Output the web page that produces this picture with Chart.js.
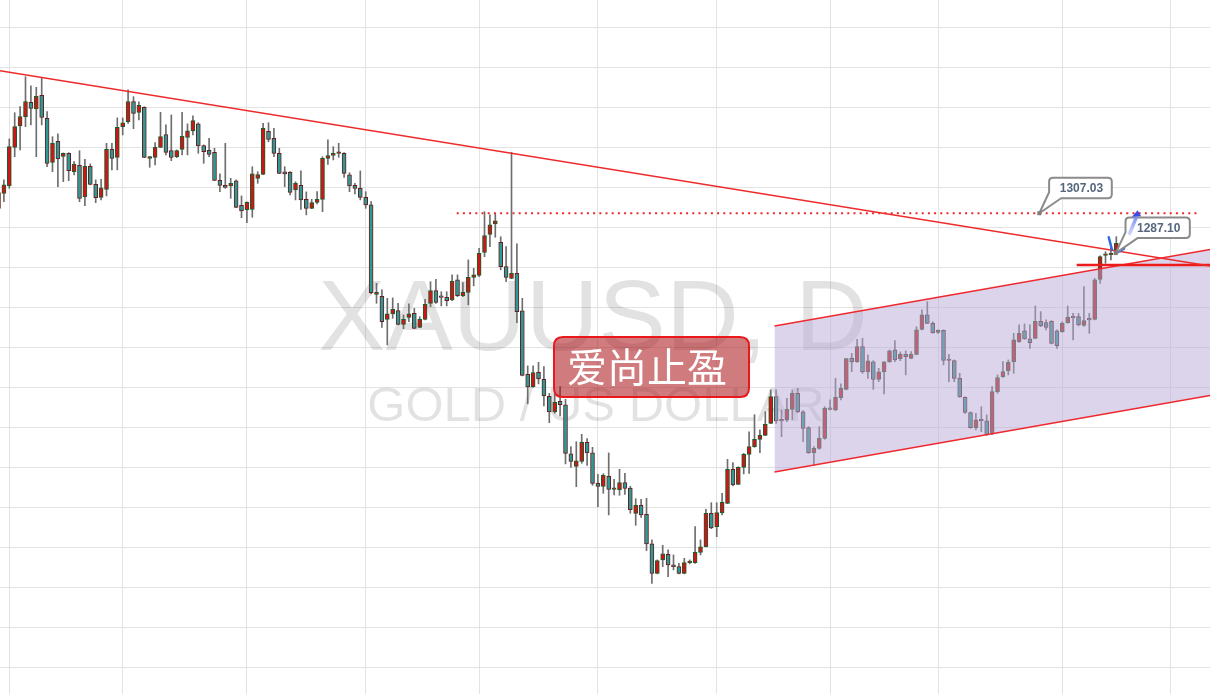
<!DOCTYPE html>
<html>
<head>
<meta charset="utf-8">
<title>XAUUSD, D</title>
<script src="https://cdn.jsdelivr.net/npm/chart.js@4.4.1/dist/chart.umd.min.js"></script>
<style>
  html, body { margin: 0; padding: 0; background: #ffffff; overflow: hidden; }
  #wrap { width: 1210px; height: 694px; }
</style>
</head>
<body>
<div id="wrap"><canvas id="c" width="1210" height="694"></canvas></div>
<script>
// Daily XAUUSD bars, numbered by trading day (0 = first session of July 2016)
const firstBar = -2;
const opens = [
  1317.3,1317.0,1320.8,1340.0,1350.7,1355.3,1362.5,1359.2,1366.0,1354.5,
  1332.5,1343.0,1335.5,1337.0,1327.8,1331.0,1315.3,1330.5,1321.5,1315.0,
  1319.0,1339.0,1335.0,1350.3,1352.8,1362.8,1357.5,1360.0,1334.5,1335.0,
  1340.0,1346.3,1338.3,1335.3,1339.0,1345.0,1348.2,1351.7,1340.8,1338.5,
  1337.5,1323.5,1321.0,1320.7,1323.2,1311.0,1308.8,1309.0,1324.5,1326.5,
  1348.0,1344.5,1337.0,1327.7,1327.5,1318.7,1321.0,1314.0,1309.5,1312.5,
  1314.0,1334.5,1336.0,1337.0,1337.0,1326.2,1321.0,1319.5,1315.0,1311.2,
  1266.5,1265.5,1254.0,1256.7,1258.3,1251.5,1255.0,1257.0,1250.0,1254.0,
  1262.0,1268.3,1265.3,1265.0,1263.7,1273.7,1265.8,1267.5,1275.0,1276.0,
  1287.5,1296.5,1301.7,1292.5,1280.3,1274.5,1277.0,1258.2,1226.5,1220.3,
  1227.5,1224.0,1215.5,1207.7,1213.0,1211.2,1186.7,1180.5,1183.0,1192.5,
  1187.2,1172.0,1170.5,1175.5,1169.0,1168.8,1172.4,1169.6,1157.0,1161.0,
  1156.5,1141.7,1127.0,1133.7,1136.5,1131.2,1130.3,1127.0,1132.3,1132.3,
  1137.5,1140.3,1157.0,1150.3,1157.3,1162.0,1179.0,1171.5,1180.0,1186.5,
  1190.3,1194.0,1196.0,1202.0,1215.3,1203.7,1203.7,1209.0,1217.0,1207.7,
  1199.8,1187.3,1189.5,1194.5,1209.7,1208.7,1214.8,1219.0,1234.5,1232.7,
  1240.3,1227.7,1232.7,1224.0,1227.7,1232.7,1238.7,1234.3,1236.5,1234.5,
  1236.5,1249.0,1256.2,1252.0,1247.5,1248.5,1233.7,1233.4,1224.5,1215.0,
  1207.3,1199.8,1203.7,1203.2,1197.0,1217.8,1225.3,1228.3,1232.8,1242.8,
  1248.2,1244.2,1244.5,1253.0,1252.3,1253.0,1248.2,1247.8,1252.3,1255.5,
  1255.3,1251.0,1254.2,1254.0,1274.0,1286.0,1286.3,1288.7
];
const highs = [
  1320.0,1323.7,1344.2,1357.3,1360.3,1375.3,1370.7,1370.0,1375.0,1357.8,
  1345.3,1346.7,1337.2,1337.3,1332.8,1338.3,1334.0,1331.7,1323.7,1324.0,
  1342.0,1342.0,1354.7,1354.7,1368.7,1365.3,1362.7,1360.3,1335.5,1342.3,
  1357.5,1351.2,1356.2,1338.7,1357.5,1351.7,1355.7,1352.3,1341.2,1344.5,
  1339.5,1326.7,1342.0,1324.5,1323.7,1315.7,1312.7,1330.3,1327.8,1352.0,
  1352.3,1349.5,1339.5,1330.3,1327.8,1322.8,1328.2,1317.7,1314.0,1317.8,
  1335.3,1343.7,1340.3,1342.0,1337.3,1327.3,1322.0,1328.2,1317.8,1312.8,
  1272.0,1268.7,1264.5,1264.7,1262.0,1256.2,1261.7,1259.5,1255.3,1264.0,
  1272.8,1274.0,1267.8,1267.8,1276.2,1276.2,1272.3,1283.7,1279.5,1289.5,
  1307.8,1306.2,1306.7,1295.3,1290.3,1337.5,1291.7,1264.5,1230.7,1230.7,
  1232.5,1230.3,1217.0,1217.0,1220.3,1214.0,1190.3,1192.8,1196.5,1194.3,
  1190.0,1176.5,1176.8,1187.2,1174.0,1179.0,1177.0,1170.5,1164.3,1164.0,
  1164.5,1143.7,1133.7,1141.0,1138.7,1136.2,1132.0,1134.5,1133.7,1150.3,
  1143.7,1159.0,1162.3,1162.3,1167.0,1184.0,1182.3,1180.3,1187.0,1197.7,
  1206.3,1198.7,1207.8,1218.7,1218.7,1208.7,1214.5,1218.7,1219.5,1208.3,
  1200.3,1190.3,1200.3,1210.3,1213.7,1224.5,1221.7,1234.5,1237.0,1244.0,
  1244.5,1236.2,1233.3,1229.5,1232.8,1238.7,1243.3,1237.7,1238.2,1237.8,
  1250.3,1258.7,1262.8,1252.8,1248.7,1248.7,1236.5,1233.7,1227.0,1215.2,
  1207.7,1207.0,1210.3,1206.2,1220.3,1226.2,1232.8,1233.7,1247.0,1251.2,
  1251.7,1251.2,1260.7,1257.8,1253.7,1253.3,1248.7,1252.8,1260.7,1257.0,
  1257.0,1270.3,1257.0,1274.5,1285.7,1287.8,1289.5,1295.3
];
const lows = [
  1306.0,1312.8,1319.5,1335.3,1338.7,1350.3,1351.2,1335.3,1351.2,1330.3,
  1327.8,1320.3,1322.8,1323.3,1326.2,1312.8,1310.8,1321.2,1312.3,1313.7,
  1315.7,1328.7,1328.7,1346.2,1352.0,1349.3,1353.7,1334.8,1330.0,1331.2,
  1339.8,1336.2,1333.3,1334.8,1336.2,1336.2,1346.2,1337.0,1332.0,1335.3,
  1323.3,1317.8,1319.5,1314.5,1309.8,1304.8,1302.3,1305.0,1322.0,1326.3,
  1342.8,1335.3,1326.8,1320.3,1316.2,1313.7,1309.0,1306.2,1309.3,1311.7,
  1307.8,1331.5,1333.7,1335.0,1325.0,1317.8,1316.7,1313.7,1309.5,1266.7,
  1262.0,1250.0,1241.2,1254.5,1251.2,1249.3,1252.8,1249.3,1249.8,1253.7,
  1260.3,1262.0,1260.7,1260.7,1263.3,1265.3,1265.3,1261.2,1270.7,1275.3,
  1285.3,1290.3,1295.0,1278.7,1272.8,1274.3,1252.3,1225.7,1211.7,1220.0,
  1221.7,1210.7,1202.3,1207.0,1205.7,1181.7,1180.0,1170.3,1182.0,1181.0,
  1171.0,1160.3,1167.0,1156.2,1166.2,1166.0,1166.5,1157.0,1151.0,1155.0,
  1138.3,1122.0,1126.7,1130.3,1125.3,1128.7,1126.7,1126.7,1131.7,1132.0,
  1136.2,1140.2,1149.3,1145.3,1156.2,1161.8,1170.7,1171.3,1176.7,1177.0,
  1190.0,1187.3,1195.8,1201.8,1202.0,1195.3,1202.8,1203.7,1207.3,1192.8,
  1187.0,1181.2,1189.0,1194.0,1208.7,1208.3,1213.7,1218.7,1227.8,1232.5,
  1227.0,1224.5,1219.0,1222.8,1216.7,1232.5,1232.8,1233.3,1226.2,1234.3,
  1236.2,1248.7,1251.8,1247.0,1247.0,1231.2,1222.8,1222.8,1215.0,1207.0,
  1199.5,1198.7,1197.8,1196.0,1196.5,1217.0,1225.0,1226.2,1227.0,1242.5,
  1244.0,1239.5,1244.3,1250.3,1248.7,1241.7,1239.5,1247.5,1252.0,1243.7,
  1250.7,1250.5,1247.0,1253.7,1272.0,1282.0,1283.7,1287.0
];
const closes = [
  1309.5,1321.2,1340.3,1350.3,1355.3,1362.8,1359.5,1365.5,1355.0,1332.0,
  1342.0,1334.2,1337.0,1328.3,1331.5,1314.5,1330.5,1321.5,1314.8,1319.7,
  1339.0,1334.5,1350.0,1352.2,1362.8,1357.0,1361.0,1335.0,1335.3,1340.0,
  1345.3,1337.5,1335.0,1338.3,1345.5,1348.2,1353.3,1340.7,1337.8,1336.5,
  1323.5,1321.0,1320.0,1322.0,1310.0,1308.2,1312.5,1326.7,1326.3,1349.5,
  1344.0,1337.0,1327.0,1326.7,1317.5,1322.0,1313.7,1309.5,1312.3,1314.0,
  1334.5,1335.8,1337.0,1337.5,1327.0,1320.7,1319.5,1315.0,1311.2,1267.3,
  1267.5,1252.8,1256.7,1259.0,1251.5,1254.0,1256.7,1249.5,1254.0,1261.5,
  1268.3,1262.5,1265.0,1263.3,1273.0,1265.8,1267.5,1275.0,1276.2,1287.0,
  1295.8,1301.2,1303.2,1280.3,1275.0,1277.0,1257.8,1226.0,1220.2,1227.3,
  1224.2,1215.7,1207.7,1212.5,1211.3,1187.0,1183.0,1183.2,1192.5,1187.2,
  1172.0,1170.5,1176.0,1169.0,1169.5,1172.4,1169.5,1158.8,1161.0,1156.2,
  1141.7,1127.0,1133.3,1136.7,1131.2,1130.3,1127.0,1132.3,1132.8,1137.5,
  1140.2,1157.0,1149.7,1157.3,1162.5,1179.0,1171.2,1180.0,1186.5,1190.3,
  1194.0,1196.0,1201.5,1215.3,1203.2,1203.2,1209.0,1217.0,1207.7,1199.5,
  1187.3,1189.5,1194.5,1209.5,1209.0,1215.0,1219.5,1234.3,1232.7,1240.3,
  1227.7,1233.2,1224.0,1227.7,1232.7,1238.2,1233.7,1236.5,1235.3,1236.5,
  1248.7,1256.2,1252.0,1247.3,1248.5,1233.5,1233.4,1224.5,1215.2,1207.5,
  1199.8,1203.7,1203.2,1196.5,1217.8,1224.8,1227.8,1232.5,1243.7,1247.0,
  1244.2,1242.3,1253.0,1250.7,1250.0,1242.0,1240.8,1252.0,1255.0,1254.7,
  1251.2,1253.3,1253.7,1273.7,1285.3,1286.7,1287.0,1292.0
];

// Vertical grid: first session of each month; horizontal grid: price levels
const monthStarts = [0, 21, 44, 66, 87, 109, 131, 152, 172, 195, 215];
const priceLevels = [1400, 1380, 1360, 1340, 1320, 1300, 1280, 1260, 1240, 1220,
                     1200, 1180, 1160, 1140, 1120, 1100, 1080];

// Drawn studies (bar number, price)
const trendX = [-1.72, 222.35];
const trendY = [1378.3, 1280.65];
const channelX = [141.7, 222.35];
const channelTop = [1250.65, 1288.9];
const channelBottom = [1177.65, 1215.9];
const targetPrice = 1307.03;
const targetX = [82.85, 220.5];
const supportPrice = 1281.15;
const supportX = [197.66, 222.35];

// Price callouts: label, anchor bar, anchor price
const calloutText = ['1307.03', '1287.10'];
const calloutBar = [190.74, 204.89];
const calloutPrice = [1307.03, 1287.10];

const symbolText = 'XAUUSD, D';
const symbolDesc = 'GOLD / US DOLLAR';
const noteText = '爱尚止盈';

const barIndex = opens.map((_, k) => firstBar + k);
const isUp = k => closes[k] >= opens[k];

const UP_FILL = '#cd1518', UP_EDGE = '#1d5e2c';
const DOWN_FILL = '#2b9a96', DOWN_EDGE = '#6b1c1c';

function roundRectPath(c, x, y, w, h, r) {
  c.beginPath();
  c.moveTo(x + r, y);
  c.lineTo(x + w - r, y);
  c.quadraticCurveTo(x + w, y, x + w, y + r);
  c.lineTo(x + w, y + h - r);
  c.quadraticCurveTo(x + w, y + h, x + w - r, y + h);
  c.lineTo(x + r, y + h);
  c.quadraticCurveTo(x, y + h, x, y + h - r);
  c.lineTo(x, y + r);
  c.quadraticCurveTo(x, y, x + r, y);
  c.closePath();
}

// Large symbol watermark behind the bars
const watermark = {
  id: 'watermark',
  beforeDatasetsDraw(chart) {
    const c = chart.ctx;
    c.save();
    c.fillStyle = 'rgba(0,0,0,0.115)';
    c.textAlign = 'center';
    c.textBaseline = 'alphabetic';
    c.font = '101px "Liberation Sans", Arial, sans-serif';
    c.fillText(symbolText, 593, 350);
    c.font = '49px "Liberation Sans", Arial, sans-serif';
    c.fillText(symbolDesc, 596, 421);
    c.restore();
  }
};

// Note box, price callouts and pen marks on top of everything
const markups = {
  id: 'markups',
  afterDatasetsDraw(chart) {
    const c = chart.ctx;
    const xs = chart.scales.x, ys = chart.scales.y;
    const px = v => xs.getPixelForValue(v);
    const py = v => ys.getPixelForValue(v);
    c.save();

    // red note box
    const bx = px(100.87), by = py(1245.15);
    roundRectPath(c, bx, by, 195, 60, 9);
    c.fillStyle = 'rgba(172,20,25,0.56)';
    c.fill();
    c.lineWidth = 2;
    c.strokeStyle = '#e8181d';
    c.stroke();
    c.fillStyle = '#ffffff';
    c.textAlign = 'center';
    c.textBaseline = 'middle';
    c.font = '40px "Noto Sans CJK SC", sans-serif';
    c.fillText(noteText, bx + 93, by + 30);

    // blue pen strokes near the last bars
    c.strokeStyle = '#2d6de2';
    c.lineWidth = 2.5;
    c.lineCap = 'round';
    c.beginPath();
    c.moveTo(px(203.6), py(1295.0));
    c.lineTo(px(204.2), py(1288.8));
    c.stroke();
    c.beginPath();
    c.moveTo(px(205.19), py(1287.5));
    c.lineTo(px(206.43), py(1289.3));
    c.stroke();

    // price callouts
    calloutText.forEach((t, k) => {
      const tx = px(calloutBar[k]), ty = py(calloutPrice[k]);
      const w = k === 0 ? 62.7 : 64.3, h = 20.6;
      const x = tx + 9.8, y = ty - 35.6, r = 4;
      c.beginPath();
      c.moveTo(x + r, y);
      c.lineTo(x + w - r, y);
      c.quadraticCurveTo(x + w, y, x + w, y + r);
      c.lineTo(x + w, y + h - r);
      c.quadraticCurveTo(x + w, y + h, x + w - r, y + h);
      c.lineTo(x + 12, y + h);
      c.lineTo(tx, ty);
      c.lineTo(x, y + h - 6);
      c.lineTo(x, y + r);
      c.quadraticCurveTo(x, y, x + r, y);
      c.closePath();
      c.fillStyle = '#ffffff';
      c.fill();
      c.lineWidth = 2;
      c.lineJoin = 'round';
      c.strokeStyle = '#8b8b8b';
      c.stroke();
      c.fillStyle = '#7d7d7d';
      c.fillRect(tx - 2, ty - 2, 4, 4);
      c.fillStyle = '#56667c';
      c.font = 'bold 12px "Liberation Sans", Arial, sans-serif';
      c.textAlign = 'center';
      c.textBaseline = 'middle';
      c.fillText(t, x + w / 2 + 1, y + h / 2 + 0.5);
    });

    // arrow pointing at the target level
    const ax0 = px(207.35), ay0 = py(1296.15);
    const ax1 = px(208.75), ay1 = py(1305.3);
    const g = c.createLinearGradient(ax0, ay0, ax1, ay1);
    g.addColorStop(0, 'rgba(205,212,250,0.85)');
    g.addColorStop(1, 'rgba(120,140,240,0.95)');
    c.strokeStyle = g;
    c.lineWidth = 3.5;
    c.lineCap = 'butt';
    c.beginPath();
    c.moveTo(ax0, ay0);
    c.lineTo(ax1, ay1);
    c.stroke();
    c.fillStyle = '#3b4be4';
    c.beginPath();
    c.moveTo(px(208.95), py(1308.5));
    c.lineTo(px(207.9), py(1305.3));
    c.lineTo(px(209.6), py(1305.5));
    c.closePath();
    c.fill();

    c.restore();
  }
};

const gridColor = '#e3e3e3';

new Chart(document.getElementById('c'), {
  type: 'bar',
  data: {
    datasets: [
      { type: 'line', data: trendX.map((x, k) => ({ x, y: trendY[k] })),
        borderColor: '#ee2a2a', borderWidth: 1.4, pointRadius: 0, fill: false, order: 0 },
      { type: 'line', data: targetX.map(x => ({ x, y: targetPrice })),
        borderColor: '#f0262b', borderWidth: 2, borderDash: [2, 4.2], pointRadius: 0, fill: false, order: 0 },
      { type: 'line', data: supportX.map(x => ({ x, y: supportPrice })),
        borderColor: '#ee1b1b', borderWidth: 2.5, pointRadius: 0, fill: false, order: 0 },
      { type: 'line', data: channelX.map((x, k) => ({ x, y: channelTop[k] })),
        borderColor: '#f0282d', borderWidth: 1.3, pointRadius: 0,
        fill: '+1', backgroundColor: 'rgba(185,169,215,0.5)', order: 2 },
      { type: 'line', data: channelX.map((x, k) => ({ x, y: channelBottom[k] })),
        borderColor: '#f0282d', borderWidth: 1.3, pointRadius: 0, fill: false, order: 1 },
      { type: 'bar', data: barIndex.map((i, k) => ({ x: i, y: [lows[k], highs[k]] })),
        backgroundColor: '#6e6e6e', barThickness: 1, grouped: false, borderWidth: 0, order: 4 },
      { type: 'bar', data: barIndex.map((i, k) => ({ x: i, y: [opens[k], closes[k]] })),
        backgroundColor: ctx => isUp(ctx.dataIndex) ? UP_FILL : DOWN_FILL,
        borderColor: ctx => isUp(ctx.dataIndex) ? UP_EDGE : DOWN_EDGE,
        borderWidth: 1, borderSkipped: false, barThickness: 4, minBarLength: 1.5,
        grouped: false, order: 3 }
    ]
  },
  options: {
    responsive: false,
    animation: false,
    events: [],
    devicePixelRatio: 1,
    layout: { padding: 0 },
    plugins: { legend: { display: false }, tooltip: { enabled: false } },
    scales: {
      x: {
        type: 'linear', min: -1.722, max: 222.35, offset: false,
        afterBuildTicks: s => { s.ticks = monthStarts.map(v => ({ value: v })); },
        ticks: { display: false },
        grid: { color: gridColor, lineWidth: 1, drawTicks: false, offset: false },
        border: { display: false }
      },
      y: {
        type: 'linear', min: 1066.65, max: 1413.65,
        afterBuildTicks: s => { s.ticks = priceLevels.map(v => ({ value: v })); },
        ticks: { display: false },
        grid: { color: gridColor, lineWidth: 1, drawTicks: false, offset: false },
        border: { display: false }
      }
    }
  },
  plugins: [watermark, markups]
});
</script>
</body>
</html>
